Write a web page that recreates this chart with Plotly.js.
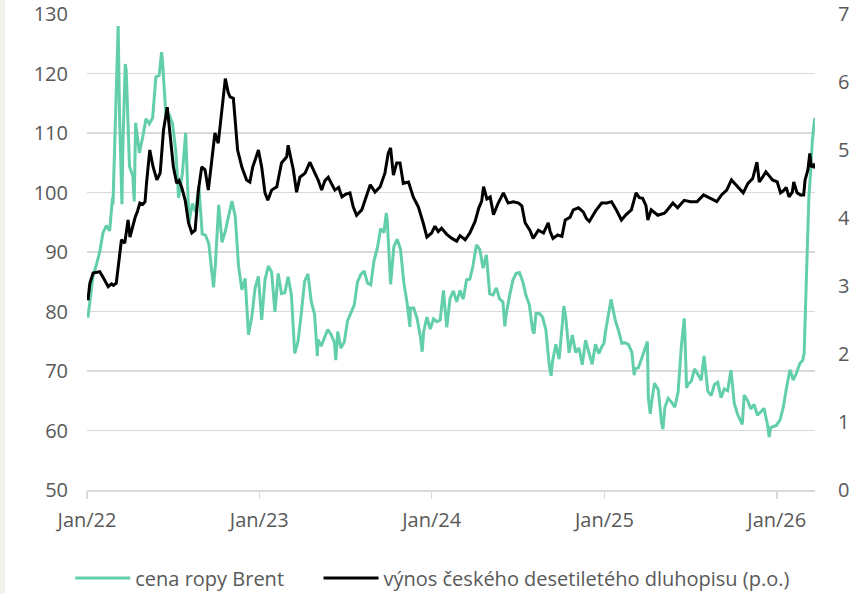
<!DOCTYPE html>
<html><head><meta charset="utf-8">
<script src="https://cdn.plot.ly/plotly-3.0.1.min.js"></script>
<style>html,body{margin:0;padding:0;background:#fff;}#wrap{position:relative;width:852px;height:594px;}#strip{position:absolute;left:0;top:0;width:5px;height:594px;background:#f4f2ec;z-index:5;}</style>
</head><body><div id="wrap"><div id="strip"></div><div id="chart" style="width:852px;height:594px;"></div></div>
<script>
const brentDates = ["2022-01-03","2022-01-07","2022-01-14","2022-01-21","2022-01-28","2022-02-04","2022-02-11","2022-02-18","2022-02-24","2022-02-25","2022-03-04","2022-03-08","2022-03-11","2022-03-16","2022-03-18","2022-03-23","2022-03-25","2022-04-01","2022-04-08","2022-04-11","2022-04-14","2022-04-22","2022-04-29","2022-05-06","2022-05-13","2022-05-20","2022-05-27","2022-06-03","2022-06-08","2022-06-10","2022-06-17","2022-06-24","2022-07-01","2022-07-08","2022-07-14","2022-07-22","2022-07-29","2022-08-05","2022-08-12","2022-08-19","2022-08-26","2022-09-02","2022-09-09","2022-09-16","2022-09-26","2022-09-30","2022-10-07","2022-10-14","2022-10-21","2022-10-28","2022-11-04","2022-11-11","2022-11-18","2022-11-25","2022-12-02","2022-12-09","2022-12-16","2022-12-23","2022-12-30",
"2023-01-06","2023-01-13","2023-01-20","2023-01-27","2023-02-03","2023-02-10","2023-02-17","2023-02-24","2023-03-03","2023-03-10","2023-03-17","2023-03-24","2023-03-31","2023-04-07","2023-04-14","2023-04-21","2023-04-28","2023-05-04","2023-05-05","2023-05-12","2023-05-19","2023-05-26","2023-06-02","2023-06-09","2023-06-12","2023-06-16","2023-06-23","2023-06-30","2023-07-07","2023-07-14","2023-07-21","2023-07-28","2023-08-04","2023-08-11","2023-08-18","2023-08-25","2023-09-01","2023-09-08","2023-09-15","2023-09-22","2023-09-27","2023-09-29","2023-10-06","2023-10-13","2023-10-20","2023-10-27","2023-11-03","2023-11-10","2023-11-16","2023-11-17","2023-11-24","2023-12-01","2023-12-08","2023-12-12","2023-12-15","2023-12-22","2023-12-29",
"2024-01-05","2024-01-12","2024-01-19","2024-01-26","2024-02-02","2024-02-09","2024-02-16","2024-02-23","2024-03-01","2024-03-08","2024-03-15","2024-03-22","2024-03-28","2024-04-05","2024-04-12","2024-04-19","2024-04-26","2024-05-03","2024-05-10","2024-05-17","2024-05-24","2024-05-31","2024-06-04","2024-06-07","2024-06-14","2024-06-21","2024-06-28","2024-07-05","2024-07-12","2024-07-19","2024-07-26","2024-08-02","2024-08-05","2024-08-09","2024-08-16","2024-08-23","2024-08-30","2024-09-06","2024-09-10","2024-09-13","2024-09-20","2024-09-27","2024-10-04","2024-10-07","2024-10-11","2024-10-18","2024-10-25","2024-11-01","2024-11-08","2024-11-15","2024-11-22","2024-11-29","2024-12-06","2024-12-13","2024-12-20","2024-12-27","2024-12-31",
"2025-01-03","2025-01-10","2025-01-15","2025-01-17","2025-01-24","2025-01-31","2025-02-07","2025-02-14","2025-02-21","2025-02-28","2025-03-05","2025-03-07","2025-03-14","2025-03-21","2025-03-28","2025-04-02","2025-04-04","2025-04-08","2025-04-11","2025-04-17","2025-04-25","2025-05-02","2025-05-05","2025-05-09","2025-05-16","2025-05-23","2025-05-30","2025-06-06","2025-06-13","2025-06-19","2025-06-20","2025-06-24","2025-06-27","2025-07-04","2025-07-11","2025-07-18","2025-07-25","2025-07-31","2025-08-08","2025-08-15","2025-08-22","2025-08-29","2025-09-05","2025-09-12","2025-09-19","2025-09-26","2025-10-03","2025-10-10","2025-10-20","2025-10-24","2025-10-31","2025-11-07","2025-11-14","2025-11-21","2025-11-28","2025-12-05","2025-12-12","2025-12-16","2025-12-19","2025-12-26","2025-12-31",
"2026-01-08","2026-01-15","2026-01-22","2026-01-29","2026-02-05","2026-02-12","2026-02-19","2026-02-25","2026-02-28","2026-03-03","2026-03-05","2026-03-07","2026-03-10","2026-03-14","2026-03-17","2026-03-21","2026-03-23"];
const brentValues = [78.98,81.75,86.06,87.89,90.03,93.27,94.44,93.54,99.08,97.93,118.11,127.98,112.67,98.02,107.93,121.6,120.65,104.39,102.78,98.48,111.7,106.65,109.34,112.39,111.55,112.55,119.43,119.72,123.58,122.01,113.12,113.12,111.63,107.02,99.1,103.2,110.01,94.92,98.15,96.72,100.99,93.02,92.84,91.35,84.06,87.96,97.92,91.63,93.5,95.77,98.57,95.99,87.62,83.63,85.57,76.1,79.04,83.92,85.91,
78.57,85.28,87.63,86.66,79.94,86.39,83.0,83.16,85.83,82.78,72.97,74.99,79.77,85.12,86.31,81.66,79.54,72.5,75.3,74.17,75.58,76.95,76.13,74.79,71.84,76.61,73.85,74.9,78.47,79.87,81.07,84.99,86.24,86.81,84.8,84.48,88.55,90.65,93.93,93.27,96.55,95.31,84.58,90.89,92.16,90.48,84.89,81.43,77.42,80.61,80.58,78.88,75.84,73.24,76.55,79.07,77.04,
78.76,78.29,78.56,83.55,77.33,82.19,83.47,81.62,83.55,82.08,85.34,85.43,87.48,91.17,90.45,87.29,89.5,82.96,82.79,83.98,82.12,81.62,77.52,79.62,82.62,85.24,86.41,86.54,85.03,82.63,81.13,76.81,76.3,79.66,79.68,79.02,76.93,71.06,69.19,71.61,74.49,71.98,78.05,80.93,79.04,73.06,76.05,73.1,73.87,71.04,75.17,72.94,71.12,74.49,72.94,74.17,74.64,
76.51,79.76,82.03,81.29,78.5,76.76,74.66,74.74,74.43,73.18,69.3,70.36,70.58,72.16,73.63,74.95,65.58,62.82,64.76,67.96,66.87,61.29,60.23,63.91,65.41,64.78,63.9,66.47,74.23,78.85,77.01,67.14,67.77,68.3,70.36,69.28,68.44,72.53,66.59,65.85,67.73,68.12,65.5,66.99,66.68,70.13,64.53,62.73,61.01,65.94,65.07,63.63,64.39,62.56,63.2,63.75,61.12,58.92,60.47,60.64,60.85,
61.8,64.0,67.3,70.2,68.5,69.7,71.3,71.8,73.0,81.4,87.0,92.0,99.2,103.8,108.3,111.7,112.5];

const yieldDates = ["2022-01-03","2022-01-07","2022-01-14","2022-01-21","2022-01-28","2022-02-04","2022-02-11","2022-02-15","2022-02-22","2022-02-26","2022-03-04","2022-03-10","2022-03-15","2022-03-22","2022-03-29","2022-04-02","2022-04-08","2022-04-13","2022-04-18","2022-04-23","2022-04-29","2022-05-04","2022-05-07","2022-05-11","2022-05-14","2022-05-21","2022-05-29","2022-06-05","2022-06-12","2022-06-20","2022-06-26","2022-07-03","2022-07-10","2022-07-15","2022-07-21","2022-07-28","2022-08-04","2022-08-11","2022-08-18","2022-08-25","2022-09-01","2022-09-08","2022-09-15","2022-09-22","2022-09-29","2022-10-06","2022-10-13","2022-10-21","2022-10-27","2022-10-31","2022-11-07","2022-11-12","2022-11-16","2022-11-25","2022-12-05","2022-12-12","2022-12-18","2022-12-23","2022-12-30",
"2023-01-06","2023-01-13","2023-01-19","2023-01-27","2023-02-07","2023-02-17","2023-02-28","2023-03-03","2023-03-14","2023-03-21","2023-03-28","2023-04-08","2023-04-18","2023-04-29","2023-05-06","2023-05-13","2023-05-20","2023-05-27","2023-06-03","2023-06-10","2023-06-18","2023-06-25","2023-07-03","2023-07-12","2023-07-19","2023-07-26","2023-08-06","2023-08-13","2023-08-24","2023-09-03","2023-09-14","2023-09-24","2023-10-01","2023-10-06","2023-10-12","2023-10-19","2023-10-26","2023-11-02","2023-11-13","2023-11-23","2023-12-04","2023-12-14","2023-12-22",
"2024-01-01","2024-01-08","2024-01-15","2024-01-22","2024-02-02","2024-02-13","2024-02-23","2024-03-01","2024-03-12","2024-03-22","2024-04-02","2024-04-10","2024-04-16","2024-04-20","2024-04-27","2024-05-04","2024-05-11","2024-05-21","2024-06-01","2024-06-11","2024-06-22","2024-07-03","2024-07-10","2024-07-17","2024-07-27","2024-08-03","2024-08-14","2024-08-25","2024-09-04","2024-09-08","2024-09-14","2024-09-24","2024-10-03","2024-10-10","2024-10-20","2024-10-27","2024-11-07","2024-11-17","2024-11-24","2024-11-30","2024-12-13","2024-12-26",
"2025-01-06","2025-01-16","2025-01-26","2025-02-06","2025-02-16","2025-02-27","2025-03-09","2025-03-16","2025-03-23","2025-03-30","2025-04-03","2025-04-10","2025-04-24","2025-05-08","2025-05-12","2025-05-26","2025-06-05","2025-06-19","2025-07-02","2025-07-16","2025-07-30","2025-08-13","2025-08-27","2025-09-06","2025-09-17","2025-09-27","2025-10-08","2025-10-22","2025-11-01","2025-11-11","2025-11-20","2025-11-25","2025-12-02","2025-12-09","2025-12-16","2025-12-23",
"2026-01-02","2026-01-09","2026-01-15","2026-01-21","2026-01-27","2026-02-03","2026-02-06","2026-02-13","2026-02-20","2026-02-27","2026-03-02","2026-03-08","2026-03-12","2026-03-15","2026-03-20","2026-03-23"];
const yieldValues = [2.79,3.04,3.19,3.2,3.21,3.13,3.05,2.99,3.03,3.01,3.04,3.43,3.68,3.63,3.97,3.72,3.9,4.01,4.1,4.22,4.2,4.24,4.51,4.8,5.0,4.75,4.56,4.66,5.29,5.63,5.19,4.75,4.51,4.55,4.44,4.26,3.93,3.78,3.82,4.41,4.75,4.71,4.41,4.81,5.25,5.1,5.59,6.05,5.85,5.78,5.76,5.4,5.0,4.75,4.56,4.53,4.75,4.85,5.0,
4.75,4.37,4.26,4.41,4.46,4.81,4.9,5.07,4.71,4.38,4.6,4.66,4.82,4.66,4.55,4.41,4.55,4.6,4.5,4.41,4.45,4.31,4.35,4.37,4.16,4.04,4.12,4.26,4.49,4.38,4.46,4.66,4.95,5.03,4.63,4.81,4.81,4.51,4.53,4.31,4.16,3.93,3.72,
3.78,3.88,3.8,3.85,3.76,3.7,3.66,3.74,3.68,3.78,3.95,4.15,4.25,4.46,4.28,4.31,4.05,4.22,4.37,4.22,4.24,4.22,4.18,3.93,3.82,3.7,3.82,3.78,3.93,3.8,3.7,3.75,3.73,3.97,4.01,4.12,4.15,4.09,3.99,3.95,4.1,4.22,
4.22,4.24,4.12,3.97,4.05,4.12,4.37,4.3,4.29,4.18,3.97,4.12,4.04,4.07,4.1,4.22,4.15,4.26,4.24,4.24,4.34,4.29,4.24,4.34,4.41,4.56,4.47,4.37,4.51,4.58,4.82,4.53,4.6,4.68,4.62,4.56,
4.53,4.37,4.4,4.45,4.31,4.38,4.53,4.37,4.34,4.34,4.56,4.71,4.95,4.75,4.78,4.73];

const seriesNames = ["cena ropy Brent","výnos českého desetiletého dluhopisu (p.o.)"];
const leftTicks = [50,60,70,80,90,100,110,120,130];
const rightTicks = [0,1,2,3,4,5,6,7];

const txt = '#595959', grid = '#d9d9d9';
const fontFam = 'Open Sans, sans-serif';
const traces = [
  {x: brentDates, y: brentValues, name: seriesNames[0], type: 'scatter', mode: 'lines',
   line: {color: '#62CFA9', width: 3}, yaxis: 'y', legend: 'legend'},
  {x: yieldDates, y: yieldValues, name: seriesNames[1], type: 'scatter', mode: 'lines',
   line: {color: '#000000', width: 3}, yaxis: 'y2', legend: 'legend2'}
];
const legFont = {family: fontFam, size: 20, color: txt};
const layout = {
  width: 852, height: 594,
  margin: {l: 87, r: 37, t: 14, b: 104, autoexpand: false},
  paper_bgcolor: '#ffffff', plot_bgcolor: '#ffffff',
  font: {family: fontFam, size: 20, color: txt},
  showlegend: true,
  legend: {orientation: 'h', x: -0.023, y: -0.185, xanchor: 'left', yanchor: 'middle',
           font: legFont, itemwidth: 55},
  legend2: {orientation: 'h', x: 0.318, y: -0.185, xanchor: 'left', yanchor: 'middle',
           font: legFont, itemwidth: 55},
  xaxis: {type: 'date', range: ['2022-01-01', '2026-03-23'], tick0: '2022-01-01', dtick: 'M12',
          tickformat: '%b/%y', ticks: 'outside', ticklen: 7, tickwidth: 1.5, tickcolor: grid,
          showline: true, linecolor: grid, linewidth: 1.5, showgrid: false, zeroline: false,
          tickfont: {family: fontFam, size: 20, color: txt}, ticklabelstandoff: 4},
  yaxis: {range: [50, 130], tickvals: leftTicks, showgrid: true, gridcolor: grid, gridwidth: 1.5,
          zeroline: false, showline: false, ticks: '', ticklabelstandoff: 18,
          tickfont: {family: fontFam, size: 20, color: txt}},
  yaxis2: {range: [0, 7], tickvals: rightTicks, overlaying: 'y', side: 'right', showgrid: false,
           zeroline: false, showline: false, ticks: '', ticklabelstandoff: 22,
           tickfont: {family: fontFam, size: 20, color: txt}}
};
Plotly.newPlot('chart', traces, layout, {displayModeBar: false, staticPlot: true});
</script></body></html>
